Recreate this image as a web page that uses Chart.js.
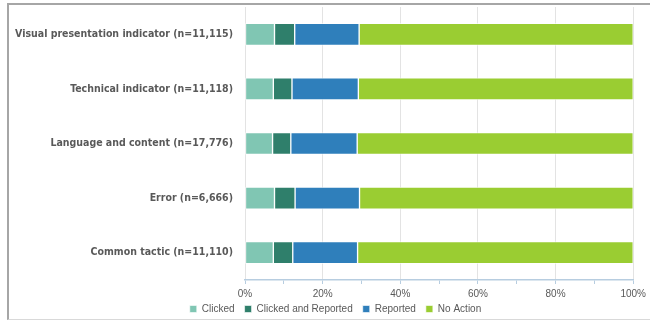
<!DOCTYPE html>
<html>
<head>
<meta charset="utf-8">
<script src="https://cdn.jsdelivr.net/npm/chart.js@4"></script>
<style>
  html, body { margin: 0; padding: 0; background: #fff; }
  body { width: 650px; height: 320px; position: relative; overflow: hidden; }
  #frame {
    position: absolute; left: 7px; top: 3px; width: 700px; height: 314px;
    border-left: 2px solid #a6a6a6; border-top: 2px solid #a6a6a6;
    border-bottom: 1px solid #d9d9d9;
  }
  #wrap { position: absolute; left: 0; top: 0; width: 650px; height: 320px; }
</style>
</head>
<body>
<div id="frame"></div>
<div id="wrap"><canvas id="chart"></canvas></div>
<script>
// stacked shares per indicator (%)
const categories = [
  'Visual presentation indicator (n=11,115)',
  'Technical indicator (n=11,118)',
  'Language and content (n=17,776)',
  'Error (n=6,666)',
  'Common tactic (n=11,110)',
];
const clicked = [7.6, 7.3, 7.1, 7.6, 7.3];
const clickedReported = [5.2, 4.8, 4.7, 5.3, 5.0];
const reported = [16.6, 17.1, 17.1, 16.6, 16.7];
const noAction = [70.6, 70.8, 71.1, 70.5, 71.0];

const TEXT = '#595959';
const GRID = '#e3e3e3';
const AXIS = '#b7cde0';

function dataset(label, data, color) {
  return {
    label,
    data,
    backgroundColor: color,
    borderColor: 'rgba(255,255,255,0.6)',
    borderWidth: 1,
    borderSkipped: false,
    barThickness: 22,
  };
}

// legend: wide gaps between items but a short box, nudged right like the original
const legendTweak = {
  id: 'legendTweak',
  afterInit(chart) {
    const lg = chart.legend;
    if (!lg) return;
    const fit = lg.fit.bind(lg);
    lg.fit = function () {
      fit();
      this.height = 16;
    };
  },
  afterLayout(chart) {
    const lg = chart.legend;
    if (!lg) return;
    lg.left += 11;
    lg.right += 11;
    lg.top -= 10;
    lg.bottom = chart.height;
  },
};

const ctx = document.getElementById('chart');
new Chart(ctx, {
  type: 'bar',
  data: {
    labels: categories,
    datasets: [
      dataset('Clicked', clicked, '#80c6b3'),
      dataset('Clicked and Reported', clickedReported, '#2f7f6b'),
      dataset('Reported', reported, '#2f7fbb'),
      dataset('No Action', noAction, '#9acd32'),
    ],
  },
  plugins: [legendTweak],
  options: {
    indexAxis: 'y',
    responsive: true,
    maintainAspectRatio: false,
    animation: false,
    layout: { padding: { top: 7, right: 13, bottom: 0, left: 12 } },
    plugins: {
      tooltip: { enabled: false },
      legend: {
        position: 'bottom',
        labels: {
          color: TEXT,
          font: { family: 'Liberation Sans, Arial, sans-serif', size: 10 },
          boxWidth: 7,
          boxHeight: 7,
          padding: 10,
        },
      },
    },
    scales: {
      x: {
        stacked: true,
        min: 0,
        max: 100,
        ticks: {
          stepSize: 10,
          color: TEXT,
          font: { family: 'Liberation Sans, Arial, sans-serif', size: 10 },
          padding: 4,
          maxRotation: 0,
          autoSkip: false,
          callback: (v) => (v % 20 === 0 ? v + '%' : ''),
        },
        grid: {
          color: (c) => (c.tick && c.tick.value % 20 === 0 ? GRID : 'transparent'),
          tickColor: AXIS,
          tickLength: 4,
        },
        border: { color: AXIS, width: 1.5 },
      },
      y: {
        stacked: true,
        afterFit: (scale) => {
          scale.width = 233;
          scale.paddingTop = 0;
          scale.paddingBottom = 0;
        },
        ticks: {
          color: TEXT,
          padding: 12,
          font: { family: 'Liberation Sans Narrow, DejaVu Sans Condensed, Arial, sans-serif', size: 10.5, weight: 'bold' },
        },
        grid: { display: false, drawTicks: false },
        border: { display: false },
      },
    },
  },
});
</script>
</body>
</html>
